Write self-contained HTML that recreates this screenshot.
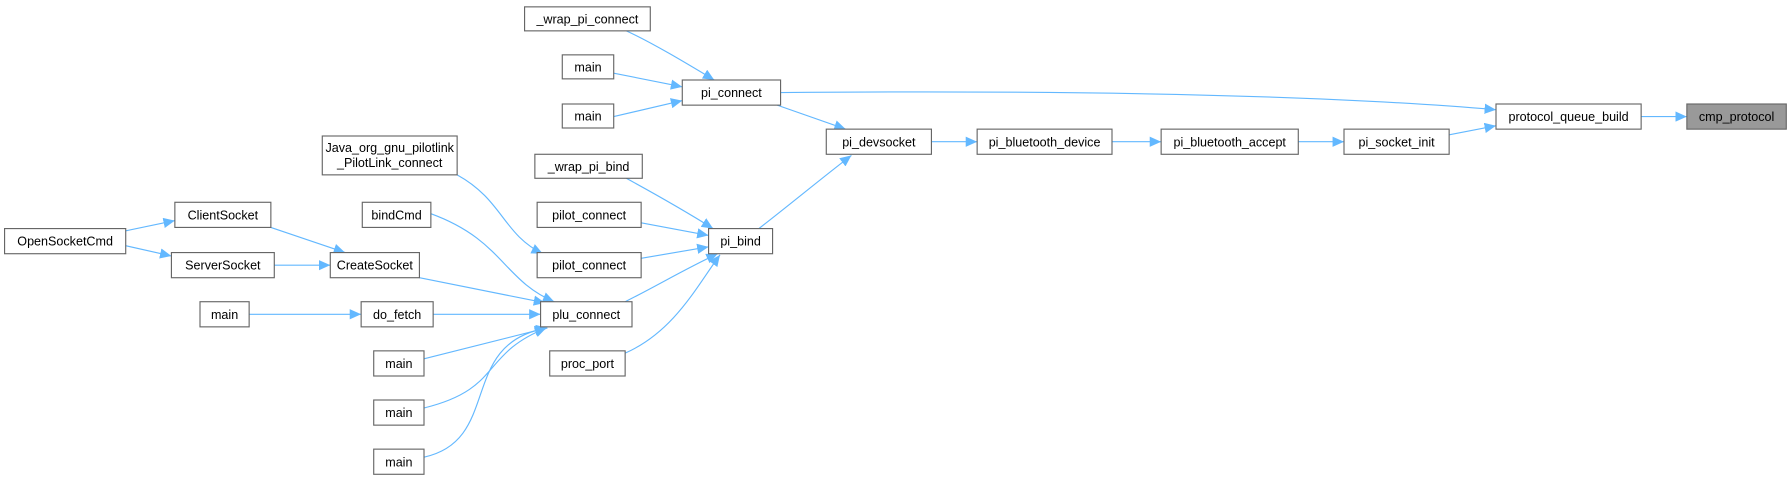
<!DOCTYPE html>
<html><head><meta charset="utf-8"><style>
html,body{margin:0;padding:0;background:#fff;}
svg{display:block;}
text{font-family:"Liberation Sans",Arial,sans-serif;font-size:11px;fill:#000;text-anchor:middle;}
rect{fill:#fff;stroke:#666;stroke-width:1;}
path{fill:none;stroke:#63b8ff;stroke-width:1;}
</style></head><body>
<svg width="1792" height="480" viewBox="0 0 1568 420" xmlns="http://www.w3.org/2000/svg">
<defs><marker id="a" markerUnits="userSpaceOnUse" markerWidth="11" markerHeight="9" refX="10" refY="4.5" orient="auto"><polygon points="0,0 10,4.5 0,9" fill="#63b8ff"/></marker></defs>
<g marker-end="url(#a)">
<path d="M548,27 C570,37 600,55 625,70"/>
<path d="M537,64 L597,76"/>
<path d="M537,102 L597,88"/>
<path d="M683,81 C800,80 1100,78 1309,96"/>
<path d="M680,92 L740,113"/>
<path d="M664,200 C690,180 720,155 745,136"/>
<path d="M815,124 L855,124"/>
<path d="M973,124 L1016,124"/>
<path d="M1136,124 L1176,124"/>
<path d="M1268,118 L1309,110"/>
<path d="M1436,102 L1476,102"/>
<path d="M548,156 C570,168 600,185 624,200"/>
<path d="M561,195 L620,206"/>
<path d="M561,226 L620,216"/>
<path d="M547,264 C575,250 600,235 628,222"/>
<path d="M547,309 C590,290 610,250 630,223"/>
<path d="M400,153 C440,175 440,205 475,222"/>
<path d="M377,187 C440,210 440,245 485,264"/>
<path d="M367,243 L477,265"/>
<path d="M379,275 L473,275"/>
<path d="M371,314 L478,287"/>
<path d="M371,357 C440,340 420,310 478,287"/>
<path d="M371,400 C440,385 400,300 479,287"/>
<path d="M237,199 L302,221"/>
<path d="M240,232 L289,232"/>
<path d="M218,275 L316,275"/>
<path d="M110,202 L153,193"/>
<path d="M110,215 L150,224"/>
</g>
<rect x="459" y="6" width="110" height="21"/><text x="514" y="20.5">_wrap_pi_connect</text>
<rect x="492" y="48" width="45" height="21"/><text x="514.5" y="62.5">main</text>
<rect x="492" y="91" width="45" height="21"/><text x="514.5" y="105.5">main</text>
<rect x="597" y="70" width="86" height="22"/><text x="640" y="85">pi_connect</text>
<rect x="282" y="119" width="118" height="34"/><text x="341" y="133">Java_org_gnu_pilotlink</text><text x="341" y="146">_PilotLink_connect</text>
<rect x="468" y="135" width="94" height="21"/><text x="515" y="149.5">_wrap_pi_bind</text>
<rect x="317" y="177" width="60" height="22"/><text x="347" y="192">bindCmd</text>
<rect x="470" y="177" width="91" height="22"/><text x="515.5" y="192">pilot_connect</text>
<rect x="620" y="200" width="56" height="22"/><text x="648" y="215">pi_bind</text>
<rect x="153" y="177" width="84" height="22"/><text x="195" y="192">ClientSocket</text>
<rect x="4" y="200" width="106" height="22"/><text x="57" y="215">OpenSocketCmd</text>
<rect x="150" y="221" width="90" height="22"/><text x="195" y="236">ServerSocket</text>
<rect x="289" y="221" width="78" height="22"/><text x="328" y="236">CreateSocket</text>
<rect x="470" y="221" width="91" height="22"/><text x="515.5" y="236">pilot_connect</text>
<rect x="175" y="264" width="43" height="22"/><text x="196.5" y="279">main</text>
<rect x="316" y="264" width="63" height="22"/><text x="347.5" y="279">do_fetch</text>
<rect x="473" y="264" width="80" height="22"/><text x="513" y="279">plu_connect</text>
<rect x="327" y="307" width="44" height="22"/><text x="349" y="322">main</text>
<rect x="481" y="307" width="66" height="22"/><text x="514" y="322">proc_port</text>
<rect x="327" y="350" width="44" height="22"/><text x="349" y="365">main</text>
<rect x="327" y="393" width="44" height="22"/><text x="349" y="408">main</text>
<rect x="723" y="113" width="92" height="22"/><text x="769" y="128">pi_devsocket</text>
<rect x="855" y="113" width="118" height="22"/><text x="914" y="128">pi_bluetooth_device</text>
<rect x="1016" y="113" width="120" height="22"/><text x="1076" y="128">pi_bluetooth_accept</text>
<rect x="1176" y="113" width="92" height="22"/><text x="1222" y="128">pi_socket_init</text>
<rect x="1309" y="91" width="127" height="22"/><text x="1372.5" y="106">protocol_queue_build</text>
<rect x="1476" y="91" width="87" height="22" style="fill:#999;stroke:#666"/><text x="1519.5" y="106">cmp_protocol</text>
</svg>
</body></html>
